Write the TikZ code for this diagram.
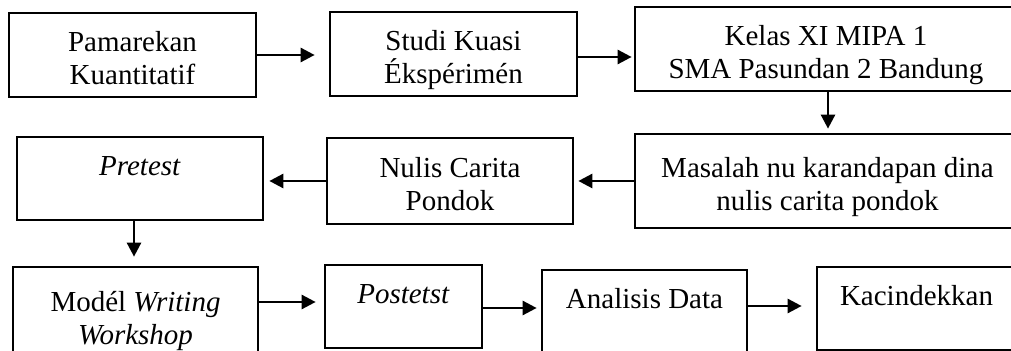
\documentclass[tikz,border=0pt]{standalone}
\usepackage{fontspec}
\setmainfont{Liberation Serif}
\usetikzlibrary{arrows.meta}
\newcommand\firstl[1]{\rule{0pt}{14.5pt}#1}
\newcommand\lastl[1]{\raisebox{0pt}[0pt][0pt]{#1}\rule[-1pt]{0pt}{1pt}}
\begin{document}
\begin{tikzpicture}[x=0.5pt,y=-0.5pt,
  box/.style={draw, line width=1.35pt, inner sep=0pt, align=center,
    font=\fontsize{14.5pt}{16.5pt}\selectfont},
  topbox/.style={box, text height=10pt, text depth=13pt},
  arr/.style={-{Triangle[length=7pt,width=7pt]}, line width=1.3pt}]
\clip (0,0) rectangle (1011,351);
\fill[white] (0,0) rectangle (1011,351);
% row 1
\node[box, minimum width=123.5pt, minimum height=42pt] (b1) at (132.5,55) {\firstl{Pamarekan}\\\lastl{Kuantitatif}};
\node[box, minimum width=123.5pt, minimum height=42pt] (b2) at (453.5,54) {\firstl{Studi Kuasi}\\\lastl{Ékspérimén}};
\node[box, minimum width=191pt, minimum height=42pt] (b3) at (826,49) {\firstl{Kelas XI MIPA 1}\\\lastl{SMA Pasundan 2 Bandung}};
% row 2
\node[box, minimum width=192.5pt, minimum height=47pt] (b4) at (827.5,181) {\firstl{Masalah nu karandapan dina}\\\lastl{nulis carita pondok}};
\node[box, minimum width=123pt, minimum height=43pt] (b5) at (450,181) {\firstl{Nulis Carita}\\\lastl{Pondok}};
\node[topbox, minimum width=123pt, minimum height=41.5pt] (b6) at (140,178.5) {\textit{Pretest}};
% row 3
\node[box, minimum width=122.5pt, minimum height=48pt] (b7) at (135.5,315) {\firstl{Modél \textit{Writing}}\\\lastl{\textit{Workshop}}};
\node[topbox, minimum width=78.5pt, minimum height=41.5pt] (b8) at (403.5,306.5) {\textit{Postetst}};
\node[topbox, minimum width=102.5pt, minimum height=41.5pt] (b9) at (644.5,311.5) {Analisis Data};
\node[topbox, minimum width=99.5pt, minimum height=41.5pt] (b10) at (916.5,308.5) {Kacindekkan};
% connectors
\coordinate (a2) at ([yshift=-1.5pt]b2.east);
\coordinate (a3) at ([xshift=1pt]b3.south);
\coordinate (a6) at ([xshift=-3pt]b6.south);
\coordinate (a7) at ([yshift=6.5pt]b7.east);
\coordinate (a8) at ([yshift=-0.75pt]b8.east);
\coordinate (a9) at ([yshift=2.75pt]b9.east);
\draw[arr, shorten >=7pt] (b1.east) -- (b1.east -| b2.west);
\draw[arr, shorten >=1pt] (a2) -- (a2 -| b3.west);
\draw[arr, shorten >=2pt] (a3) -- (a3 |- b4.north);
\draw[arr, shorten >=2pt] (b4.west) -- (b4.west -| b5.east);
\draw[arr, shorten >=2.5pt] (b5.west) -- (b5.west -| b6.east);
\draw[arr, shorten >=4.5pt] (a6) -- (a6 |- b7.north);
\draw[arr, shorten >=4pt] (a7) -- (a7 -| b8.west);
\draw[arr, shorten >=2pt] (a8) -- (a8 -| b9.west);
\draw[arr, shorten >=7pt] (a9) -- (a9 -| b10.west);
\end{tikzpicture}
\end{document}
